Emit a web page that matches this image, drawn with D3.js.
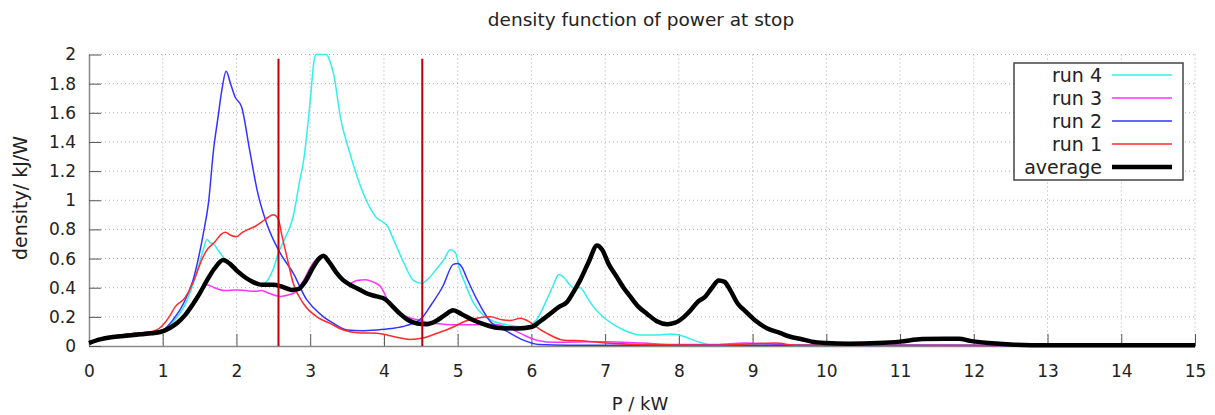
<!DOCTYPE html>
<html>
<head>
<meta charset="utf-8">
<script src="https://cdn.jsdelivr.net/npm/d3@7"></script>
<style>
    body { margin: 0; background: #fff; }
    svg { display: block; font-family: 'DejaVu Sans', Verdana, sans-serif; }
</style>
</head>
<body>
<div id="chart"></div>
<script>
// density curves, [P in kW, density]
const run4 = [[0,0.03],[0.3,0.065],[0.6,0.085],[0.9,0.10],[1.0,0.11],[1.15,0.17],[1.3,0.28],[1.46,0.50],[1.55,0.66],[1.6,0.73],[1.64,0.71],[1.69,0.70],[1.76,0.65],[1.82,0.61],[1.9,0.56],[2.0,0.52],[2.18,0.45],[2.33,0.42],[2.42,0.45],[2.5,0.53],[2.57,0.64],[2.64,0.72],[2.77,0.89],[2.86,1.14],[2.91,1.27],[3.0,1.68],[3.05,1.95],[3.08,2.0],[3.22,2.0],[3.27,1.95],[3.32,1.86],[3.41,1.57],[3.54,1.32],[3.68,1.10],[3.81,0.95],[3.9,0.88],[3.99,0.85],[4.05,0.82],[4.13,0.73],[4.27,0.57],[4.4,0.45],[4.51,0.43],[4.6,0.46],[4.7,0.52],[4.81,0.59],[4.9,0.66],[4.97,0.64],[5.03,0.52],[5.1,0.43],[5.21,0.30],[5.35,0.21],[5.44,0.18],[5.67,0.145],[5.94,0.13],[6.07,0.18],[6.21,0.32],[6.3,0.42],[6.37,0.49],[6.44,0.47],[6.52,0.42],[6.57,0.40],[6.66,0.40],[6.76,0.33],[6.84,0.27],[7.02,0.18],[7.25,0.11],[7.48,0.075],[7.7,0.075],[7.9,0.082],[8.07,0.065],[8.25,0.03],[8.5,0.005],[15,0.003]];
const run3 = [[0,0.03],[0.3,0.065],[0.6,0.085],[0.9,0.10],[1.0,0.11],[1.15,0.15],[1.3,0.22],[1.45,0.32],[1.6,0.42],[1.7,0.40],[1.85,0.38],[2.0,0.385],[2.12,0.38],[2.25,0.375],[2.34,0.38],[2.45,0.36],[2.6,0.34],[2.7,0.35],[2.8,0.37],[2.91,0.45],[3.04,0.57],[3.16,0.62],[3.3,0.56],[3.42,0.47],[3.54,0.43],[3.63,0.45],[3.75,0.455],[3.85,0.44],[3.95,0.41],[4.08,0.29],[4.27,0.21],[4.45,0.18],[4.62,0.16],[4.8,0.15],[5.0,0.145],[5.2,0.145],[5.48,0.15],[5.67,0.13],[5.85,0.087],[6.07,0.04],[6.33,0.025],[6.8,0.03],[7.0,0.03],[7.5,0.02],[8.0,0.01],[8.5,0.01],[8.9,0.02],[9.2,0.015],[9.6,0.005],[15,0.003]];
const run2 = [[0,0.03],[0.3,0.065],[0.6,0.085],[0.9,0.10],[1.0,0.11],[1.14,0.18],[1.28,0.29],[1.41,0.45],[1.55,0.77],[1.62,0.98],[1.69,1.35],[1.75,1.57],[1.8,1.75],[1.86,1.885],[1.92,1.80],[1.98,1.71],[2.07,1.64],[2.18,1.34],[2.28,1.07],[2.41,0.84],[2.59,0.64],[2.77,0.50],[2.95,0.32],[3.05,0.26],[3.18,0.20],[3.3,0.16],[3.5,0.11],[3.7,0.105],[3.9,0.11],[4.1,0.12],[4.3,0.14],[4.51,0.19],[4.65,0.29],[4.8,0.41],[4.94,0.56],[5.0,0.566],[5.06,0.54],[5.12,0.47],[5.26,0.32],[5.44,0.17],[5.67,0.10],[5.89,0.04],[6.1,0.01],[6.5,0.005],[8,0.005],[15,0.003]];
const run1 = [[0,0.03],[0.3,0.065],[0.6,0.085],[0.85,0.10],[0.95,0.12],[1.03,0.16],[1.1,0.21],[1.17,0.27],[1.3,0.33],[1.44,0.47],[1.52,0.58],[1.6,0.66],[1.7,0.71],[1.8,0.77],[1.85,0.78],[1.92,0.76],[2.0,0.75],[2.08,0.78],[2.16,0.80],[2.25,0.82],[2.34,0.85],[2.42,0.88],[2.5,0.90],[2.56,0.88],[2.62,0.75],[2.68,0.62],[2.77,0.43],[2.91,0.29],[3.09,0.20],[3.27,0.155],[3.45,0.11],[3.68,0.09],[3.9,0.087],[4.17,0.06],[4.35,0.045],[4.53,0.055],[4.72,0.087],[4.94,0.13],[5.1,0.17],[5.26,0.19],[5.44,0.20],[5.6,0.18],[5.72,0.175],[5.85,0.19],[5.99,0.16],[6.1,0.12],[6.21,0.087],[6.44,0.04],[6.72,0.035],[7.02,0.02],[7.5,0.01],[8.5,0.005],[9.0,0.015],[9.3,0.02],[9.6,0.005],[15,0.003]];
const average = [[0,0.02],[0.15,0.045],[0.3,0.06],[0.5,0.07],[0.7,0.08],[0.85,0.087],[1.0,0.10],[1.1,0.125],[1.2,0.16],[1.3,0.21],[1.4,0.28],[1.5,0.36],[1.6,0.45],[1.7,0.53],[1.82,0.59],[1.92,0.56],[2.02,0.51],[2.12,0.47],[2.22,0.44],[2.35,0.42],[2.5,0.42],[2.6,0.41],[2.75,0.385],[2.84,0.39],[2.93,0.44],[3.04,0.54],[3.12,0.60],[3.18,0.62],[3.25,0.58],[3.36,0.50],[3.45,0.45],[3.54,0.42],[3.66,0.39],[3.77,0.36],[3.9,0.34],[4.02,0.32],[4.12,0.27],[4.22,0.22],[4.32,0.18],[4.45,0.155],[4.58,0.15],[4.7,0.17],[4.82,0.21],[4.94,0.245],[5.05,0.22],[5.2,0.18],[5.35,0.15],[5.53,0.125],[5.8,0.12],[6.0,0.13],[6.12,0.17],[6.25,0.22],[6.38,0.27],[6.48,0.30],[6.57,0.37],[6.66,0.45],[6.78,0.58],[6.89,0.69],[6.96,0.66],[7.05,0.56],[7.15,0.48],[7.25,0.40],[7.34,0.34],[7.45,0.27],[7.57,0.22],[7.7,0.17],[7.84,0.15],[7.95,0.16],[8.07,0.20],[8.15,0.24],[8.25,0.30],[8.36,0.34],[8.45,0.40],[8.54,0.45],[8.62,0.44],[8.7,0.38],[8.8,0.29],[8.9,0.24],[9.05,0.17],[9.2,0.12],[9.37,0.09],[9.5,0.065],[9.64,0.05],[9.8,0.03],[10,0.02],[10.3,0.015],[10.7,0.02],[11,0.03],[11.3,0.048],[11.6,0.05],[11.8,0.05],[11.95,0.035],[12.2,0.02],[12.5,0.01],[13,0.005],[14,0.005],[15,0.005]];

// the two red markers
const markers = [2.57, 4.52];
const markerTop = 1.97;

const xTicks = d3.range(0, 16);
const yTicks = [0, 0.2, 0.4, 0.6, 0.8, 1, 1.2, 1.4, 1.6, 1.8, 2];

const series = [
    { name: 'run 4', data: run4, color: '#33eeee', width: 1.5 },
    { name: 'run 3', data: run3, color: '#ff33ff', width: 1.5 },
    { name: 'run 2', data: run2, color: '#3333ff', width: 1.5 },
    { name: 'run 1', data: run1, color: '#ff2a2a', width: 1.5 },
    { name: 'average', data: average, color: '#000000', width: 4.5 }
];

const W = 1215, H = 415;
const plotLeft = 89, plotRight = 1195, plotTop = 54.5, plotBottom = 346;

const svg = d3.select('#chart').append('svg')
    .attr('width', W)
    .attr('height', H);

const x = d3.scaleLinear().domain([0, 15]).range([plotLeft, plotRight]);
const y = d3.scaleLinear().domain([0, 2]).range([plotBottom, plotTop]);

// grid
svg.append('g').selectAll('line')
    .data(xTicks.slice(1))
    .join('line')
    .attr('x1', d => x(d)).attr('x2', d => x(d))
    .attr('y1', plotTop).attr('y2', plotBottom)
    .attr('stroke', '#aaa').attr('stroke-dasharray', '1,3');
svg.append('g').selectAll('line')
    .data(yTicks.slice(1))
    .join('line')
    .attr('x1', plotLeft).attr('x2', plotRight)
    .attr('y1', d => y(d)).attr('y2', d => y(d))
    .attr('stroke', '#aaa').attr('stroke-dasharray', '1,3');

// axes, gnuplot style: ticks pointing inward
const xAxis = svg.append('g')
    .attr('transform', `translate(0,${plotBottom})`)
    .call(d3.axisBottom(x).tickValues(xTicks).tickFormat(d3.format('d'))
        .tickSizeInner(-12).tickSizeOuter(0).tickPadding(19));
const yAxis = svg.append('g')
    .attr('transform', `translate(${plotLeft},0)`)
    .call(d3.axisLeft(y).tickValues(yTicks).tickFormat(d => d)
        .tickSizeInner(-12).tickSizeOuter(0).tickPadding(13));

[xAxis, yAxis].forEach(ax => {
    ax.select('.domain').attr('stroke', '#888').attr('stroke-width', 1.5);
    ax.selectAll('.tick line').attr('stroke', '#555');
    ax.selectAll('.tick text')
        .attr('fill', '#222')
        .style('font-size', '17px')
        .style('font-family', "'DejaVu Sans', Verdana, sans-serif");
});

// curves
const line = d3.line()
    .x(d => x(d[0]))
    .y(d => y(d[1]))
    .curve(d3.curveMonotoneX);

svg.append('g').selectAll('path')
    .data(series)
    .join('path')
    .attr('d', d => line(d.data))
    .attr('fill', 'none')
    .attr('stroke', d => d.color)
    .attr('stroke-width', d => d.width)
    .attr('stroke-linejoin', 'round');

// markers
svg.append('g').selectAll('line')
    .data(markers)
    .join('line')
    .attr('x1', d => x(d)).attr('x2', d => x(d))
    .attr('y1', y(markerTop)).attr('y2', y(0))
    .attr('stroke', '#c00000')
    .attr('stroke-width', 2);

// legend
const legend = svg.append('g');
legend.append('rect')
    .attr('x', 1014).attr('y', 63)
    .attr('width', 169).attr('height', 117)
    .attr('fill', '#fff')
    .attr('stroke', '#444')
    .attr('stroke-width', 1.5);

const item = legend.selectAll('g.item')
    .data(series)
    .join('g')
    .attr('class', 'item')
    .attr('transform', (d, i) => `translate(0,${75 + i * 23})`);
item.append('text')
    .attr('x', 1102).attr('y', 7)
    .attr('text-anchor', 'end')
    .attr('fill', '#222')
    .style('font-size', '19px')
    .text(d => d.name);
item.append('line')
    .attr('x1', 1112).attr('x2', 1172)
    .attr('stroke', d => d.color)
    .attr('stroke-width', d => d.width);

// titles
svg.append('text')
    .attr('x', 641).attr('y', 26)
    .attr('text-anchor', 'middle')
    .attr('fill', '#222')
    .style('font-size', '18.5px')
    .text('density function of power at stop');

svg.append('text')
    .attr('transform', 'translate(27,198) rotate(-90)')
    .attr('text-anchor', 'middle')
    .attr('fill', '#222')
    .style('font-size', '19px')
    .text('density/ kJ/W');

svg.append('text')
    .attr('x', 640).attr('y', 410)
    .attr('text-anchor', 'middle')
    .attr('fill', '#222')
    .style('font-size', '18px')
    .text('P / kW');
</script>
</body>
</html>
